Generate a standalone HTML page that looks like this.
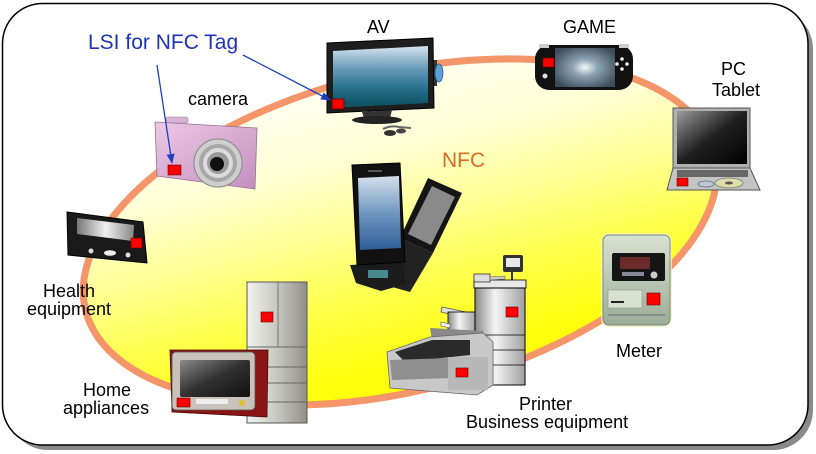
<!DOCTYPE html>
<html><head><meta charset="utf-8"><style>
html,body{margin:0;padding:0;background:#fff;}
svg{display:block;}
text{font-family:"Liberation Sans",Arial,sans-serif;}
</style></head><body>
<svg width="816" height="454" viewBox="0 0 816 454" xmlns="http://www.w3.org/2000/svg">
<defs>
<linearGradient id="yel" gradientUnits="userSpaceOnUse" x1="0" y1="60" x2="0" y2="405">
<stop offset="0" stop-color="#FFFFF4"/><stop offset="0.25" stop-color="#FFFFD6"/><stop offset="0.45" stop-color="#FFFF98"/><stop offset="0.65" stop-color="#FFFF50"/><stop offset="0.85" stop-color="#FFFF12"/><stop offset="1" stop-color="#FFFF00"/>
</linearGradient>
<linearGradient id="tv" x1="0" y1="0" x2="0" y2="1">
<stop offset="0" stop-color="#d6e4ee"/><stop offset="0.35" stop-color="#6c9cbc"/><stop offset="0.7" stop-color="#236e88"/><stop offset="1" stop-color="#0e4d5c"/>
</linearGradient>
<linearGradient id="ph" x1="0" y1="0" x2="0" y2="1">
<stop offset="0" stop-color="#d4e0ec"/><stop offset="0.5" stop-color="#6f97c0"/><stop offset="1" stop-color="#2f5f98"/>
</linearGradient>
<linearGradient id="pink" x1="0" y1="0" x2="1" y2="1">
<stop offset="0" stop-color="#ecc8e6"/><stop offset="1" stop-color="#c38fbd"/>
</linearGradient>
<radialGradient id="gm" cx="0.5" cy="0.5" r="0.6">
<stop offset="0" stop-color="#f4f8fa"/><stop offset="0.35" stop-color="#8ea4b4"/><stop offset="1" stop-color="#3c4c5a"/>
</radialGradient>
<linearGradient id="lap" x1="0" y1="0" x2="1" y2="1">
<stop offset="0" stop-color="#9a9a9a"/><stop offset="0.5" stop-color="#202020"/><stop offset="1" stop-color="#000"/>
</linearGradient>
<linearGradient id="silver" x1="0" y1="0" x2="1" y2="0">
<stop offset="0" stop-color="#f2f2ee"/><stop offset="0.5" stop-color="#c8c8c2"/><stop offset="1" stop-color="#909088"/>
</linearGradient>
<linearGradient id="copier" x1="0" y1="0" x2="1" y2="0">
<stop offset="0" stop-color="#888"/><stop offset="0.4" stop-color="#f4f4f4"/><stop offset="1" stop-color="#a0a0a0"/>
</linearGradient>
<linearGradient id="mscr" x1="0" y1="0" x2="1" y2="1">
<stop offset="0" stop-color="#8a8a8a"/><stop offset="0.5" stop-color="#303030"/><stop offset="1" stop-color="#111"/>
</linearGradient>
<linearGradient id="meter" x1="0" y1="0" x2="0" y2="1">
<stop offset="0" stop-color="#d8e2d2"/><stop offset="1" stop-color="#9cac98"/>
</linearGradient>
<linearGradient id="hs" x1="0" y1="0" x2="1" y2="0">
<stop offset="0" stop-color="#777"/><stop offset="0.5" stop-color="#f0f0f0"/><stop offset="1" stop-color="#888"/>
</linearGradient>
<marker id="ar" markerWidth="10" markerHeight="8" refX="9" refY="4" orient="auto" markerUnits="userSpaceOnUse">
<path d="M0,0 L10,4 L0,8 z" fill="#1f3fbf"/>
</marker>
</defs>

<!-- frame -->
<rect x="8" y="9" width="805" height="441" rx="40" fill="#8a8a8a"/>
<rect x="2.5" y="3.5" width="805.5" height="441.5" rx="40" fill="#fff" stroke="#000" stroke-width="1.5"/>

<!-- ellipse -->
<ellipse cx="400" cy="232" rx="324" ry="159" transform="rotate(-14 400 232)" fill="url(#yel)" stroke="#F5956A" stroke-width="7"/>

<!-- TV -->
<rect x="431" y="60" width="6" height="26" fill="#333"/>
<ellipse cx="439" cy="73" rx="4" ry="9" fill="#5d9fd6" stroke="#2a5a90" stroke-width="0.8"/>
<polygon points="327,43 433,38 434,108 327,113" fill="#1e1e1e" stroke="#000"/>
<polygon points="333,51 428,46 428,103 333,108" fill="url(#tv)"/>
<polygon points="362,112 392,110 390,118 364,118" fill="#333"/>
<ellipse cx="377" cy="120" rx="25" ry="4" fill="#222"/>
<path d="M383 129 q8 -4 16 -2 l12 1" stroke="#666" fill="none" stroke-width="2"/>
<ellipse cx="390" cy="133" rx="6" ry="3" fill="#333"/>
<ellipse cx="401" cy="131" rx="5" ry="2.5" fill="#444"/>
<rect x="332" y="99" width="12" height="10" fill="#f00" stroke="#600" stroke-width="0.8"/>

<!-- GAME -->
<rect x="535" y="45" width="98" height="45" rx="14" fill="#111"/>
<rect x="539" y="44" width="10" height="4" fill="#ccc"/>
<rect x="619" y="44" width="10" height="4" fill="#ccc"/>
<rect x="555" y="48" width="60" height="39" fill="url(#gm)"/>
<rect x="543" y="58" width="11" height="9" fill="#f00" stroke="#600" stroke-width="0.6"/>
<circle cx="545" cy="76" r="2.5" fill="#ddd"/>
<circle cx="622" cy="59" r="1.8" fill="#eee"/><circle cx="627" cy="64" r="1.8" fill="#eee"/><circle cx="622" cy="69" r="1.8" fill="#eee"/><circle cx="617" cy="64" r="1.8" fill="#eee"/>

<!-- Laptop -->
<rect x="673" y="108" width="77" height="60" fill="#b0b0b0" stroke="#555"/>
<rect x="677" y="111" width="70" height="53" fill="url(#lap)"/>
<polygon points="673,168 750,168 760,190 667,190" fill="#c4c4c4" stroke="#555"/>
<rect x="677" y="170" width="71" height="7" fill="#666"/>
<rect x="677" y="178" width="11" height="8" fill="#f00" stroke="#600" stroke-width="0.6"/>
<ellipse cx="706" cy="184" rx="8" ry="3" fill="#bcc8d8" stroke="#667" stroke-width="0.8"/>
<ellipse cx="729" cy="183" rx="14" ry="5" fill="#dedcaa" stroke="#777" stroke-width="0.8"/>
<ellipse cx="729" cy="183" rx="4" ry="1.5" fill="#555"/>

<!-- Camera -->
<rect x="166" y="117" width="22" height="6" rx="2" fill="#d9b4d4" stroke="#a080a0" stroke-width="0.6"/>
<polygon points="155,122 257,128 255,189 157,176" fill="url(#pink)" stroke="#9a7098" stroke-width="0.8"/>
<circle cx="218" cy="163" r="24" fill="#cfcfcf" stroke="#888"/>
<circle cx="218" cy="163" r="19" fill="#a8a8a8"/>
<circle cx="218" cy="163" r="15" fill="#dcdcdc"/>
<circle cx="218" cy="163" r="11" fill="#9a9a9a"/>
<circle cx="217" cy="164" r="7" fill="#111"/>
<rect x="168" y="165" width="13" height="10" fill="#f00" stroke="#600" stroke-width="0.6"/>

<!-- Health -->
<polygon points="67,212 143,222 147,263 68,255" fill="#1a1a1a" stroke="#000"/>
<polygon points="77,218 134,225 133,241 77,234" fill="url(#hs)"/>
<circle cx="91" cy="251" r="2.5" fill="#ddd"/>
<ellipse cx="110" cy="253" rx="6" ry="2.8" fill="#eee"/>
<circle cx="128" cy="255" r="2.5" fill="#ddd"/>
<rect x="131" y="238" width="11" height="10" fill="#f00" stroke="#600" stroke-width="0.6"/>

<!-- Phones -->
<polygon points="428,178 462,193 433,253 400,238" fill="#151515"/>
<polygon points="432,186 455,197 431,245 408,234" fill="#8a8a8a"/>
<polygon points="400,238 433,253 410,292 378,283" fill="#222"/>
<polygon points="350,265 403,262 406,284 381,291 356,283" fill="#1c1c1c"/>
<rect x="368" y="270" width="20" height="8" fill="#4a8a8a"/>
<polygon points="352,165 400,163 405,262 357,265" fill="#111" stroke="#000"/>
<polygon points="358,178 399,176 401,248 360,250" fill="url(#ph)"/>
<rect x="368" y="170" width="14" height="2" fill="#555"/>

<!-- Meter -->
<rect x="601" y="233" width="71" height="94" rx="8" fill="#f2f2c0" opacity="0.8"/>
<rect x="603" y="235" width="67" height="90" rx="6" fill="url(#meter)" stroke="#7a8a76"/>
<rect x="612" y="253" width="53" height="28" rx="2" fill="#151515"/>
<rect x="620" y="257" width="30" height="12" fill="#6a2a2a"/>
<rect x="622" y="272" width="22" height="4" fill="#889"/>
<circle cx="654" cy="275" r="3.5" fill="#ccc"/>
<rect x="608" y="290" width="34" height="18" fill="#d8e0d0" stroke="#8a9a86" stroke-width="0.6"/>
<rect x="611" y="301" width="13" height="2" fill="#222"/>
<rect x="647" y="293" width="13" height="12" fill="#f00" stroke="#600" stroke-width="0.6"/>
<line x1="608" y1="315" x2="665" y2="315" stroke="#667" stroke-width="1"/>

<!-- Copier -->
<line x1="512" y1="270" x2="512" y2="285" stroke="#333" stroke-width="2"/>
<rect x="503" y="255" width="20" height="17" rx="2" fill="#333"/>
<rect x="506" y="258" width="14" height="9" fill="#e8e8e8"/>
<polygon points="442,307 475,314 475,320 441,312" fill="#e0e0e0" stroke="#555" stroke-width="0.8"/>
<rect x="448" y="312" width="28" height="34" fill="url(#copier)" stroke="#000" stroke-width="0.8"/>
<polygon points="441,322 450,324 450,328 441,326" fill="#eee" stroke="#555" stroke-width="0.6"/>
<rect x="474" y="280" width="52" height="8" fill="#e8e8e8" stroke="#000" stroke-width="0.8"/>
<rect x="474" y="274" width="16" height="8" fill="#ddd" stroke="#333" stroke-width="0.8"/>
<polygon points="490,277 505,276 505,279 490,280" fill="#ccc" stroke="#555" stroke-width="0.5"/>
<rect x="475" y="288" width="50" height="97" fill="url(#copier)" stroke="#000" stroke-width="1"/>
<line x1="475" y1="335" x2="525" y2="335" stroke="#000" stroke-width="0.8"/>
<line x1="475" y1="350" x2="525" y2="350" stroke="#000" stroke-width="0.8"/>
<line x1="475" y1="365" x2="525" y2="365" stroke="#000" stroke-width="0.8"/>
<rect x="506" y="307" width="12" height="10" fill="#f00" stroke="#600" stroke-width="0.6"/>

<!-- Inkjet printer -->
<polygon points="430,328 483,331 485,341 432,340" fill="#8a8a8a"/>
<polygon points="387,352 430,337 483,333 493,342 493,385 477,395 390,388" fill="#c8c8c8" stroke="#666" stroke-width="0.8"/>
<polygon points="395,352 432,340 470,340 470,355 405,362" fill="#2a2a2a"/>
<polygon points="390,360 450,358 452,378 392,380" fill="#8e8e8e"/>
<rect x="448" y="357" width="40" height="33" fill="#b8b8b8"/>
<rect x="456" y="368" width="12" height="9" fill="#f00" stroke="#600" stroke-width="0.6"/>

<!-- Fridge -->
<rect x="247" y="282" width="60" height="141" fill="url(#silver)" stroke="#555" stroke-width="1"/>
<line x1="278" y1="282" x2="278" y2="347" stroke="#777" stroke-width="1"/>
<line x1="247" y1="347" x2="307" y2="347" stroke="#666" stroke-width="1"/>
<line x1="247" y1="367" x2="307" y2="367" stroke="#666" stroke-width="1"/>
<line x1="247" y1="383" x2="307" y2="383" stroke="#666" stroke-width="1"/>
<line x1="247" y1="402" x2="307" y2="402" stroke="#666" stroke-width="1"/>
<rect x="261" y="312" width="12" height="10" fill="#f00" stroke="#600" stroke-width="0.6"/>

<!-- Microwave -->
<polygon points="170,350 268,350 267,417 172,412" fill="#8a1515" stroke="#4a0808" stroke-width="0.8"/>
<rect x="172" y="352" width="83" height="58" rx="4" fill="#c8c2ba" stroke="#555" stroke-width="0.8"/>
<rect x="180" y="360" width="70" height="37" rx="2" fill="url(#mscr)"/>
<rect x="196" y="399" width="32" height="5" fill="#eee"/>
<circle cx="242" cy="403" r="3" fill="#e0c030"/>
<rect x="177" y="398" width="13" height="9" fill="#f00" stroke="#600" stroke-width="0.6"/>

<!-- arrows -->
<line x1="157" y1="65" x2="172" y2="163" stroke="#1f3fbf" stroke-width="1.3" marker-end="url(#ar)"/>
<line x1="243" y1="55" x2="330" y2="100" stroke="#1f3fbf" stroke-width="1.3" marker-end="url(#ar)"/>

<!-- text -->
<text x="88" y="49" font-size="21" fill="#1f35b5">LSI for NFC Tag</text>
<text x="367" y="33" font-size="18" fill="#000">AV</text>
<text x="188" y="105" font-size="18" fill="#000">camera</text>
<text x="563" y="33" font-size="18" fill="#000">GAME</text>
<text x="721" y="75" font-size="18" fill="#000">PC</text>
<text x="712" y="96" font-size="18" fill="#000">Tablet</text>
<text x="442" y="167" font-size="21" fill="#d86a2a">NFC</text>
<text x="43" y="297" font-size="18" fill="#000">Health</text>
<text x="27" y="315" font-size="18" fill="#000">equipment</text>
<text x="83" y="396" font-size="18" fill="#000">Home</text>
<text x="63" y="414" font-size="18" fill="#000">appliances</text>
<text x="616" y="357" font-size="18" fill="#000">Meter</text>
<text x="519" y="410" font-size="18" fill="#000">Printer</text>
<text x="466" y="428" font-size="18" fill="#000">Business equipment</text>
</svg>
</body></html>
